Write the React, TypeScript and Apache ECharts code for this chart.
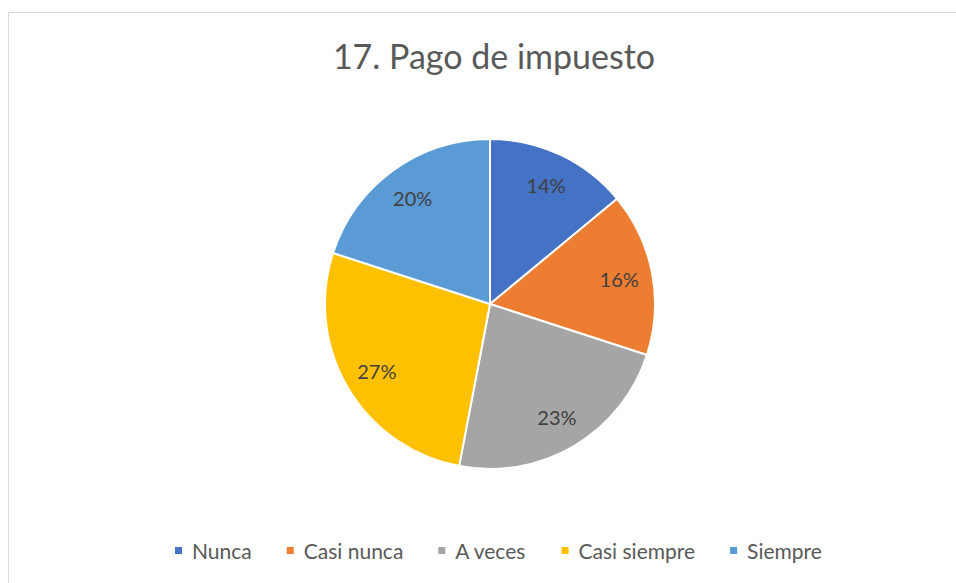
import React, { useEffect, useRef } from "react";
import * as echarts from "echarts";

const categories = ["Nunca", "Casi nunca", "A veces", "Casi siempre", "Siempre"];
const values = [14, 16, 23, 27, 20];
const colors = ["#4472C4", "#ED7D31", "#A5A5A5", "#FFC000", "#5B9BD5"];
const titleText = "17. Pago de impuesto";

export default function App() {
  const ref = useRef<HTMLDivElement>(null);
  useEffect(() => {
    if (!ref.current) return;
    const chart = echarts.init(ref.current, null, { renderer: "svg" });
    const data = categories.map((c, i) => ({ name: c, value: values[i] }));
    const labelData = categories.map((c, i) => ({
      name: c,
      value: values[i],
      itemStyle: { color: "rgba(0,0,0,0)" },
    }));
    chart.setOption({
      animation: false,
      color: colors,
      textStyle: { fontFamily: "Lato" },
      title: {
        text: titleText,
        left: 489,
        textAlign: "center",
        top: 33,
        textStyle: { fontFamily: "Lato", fontSize: 34, fontWeight: "normal", color: "#595959" },
      },
      legend: {
        top: 535,
        left: 168,
        icon: "rect",
        itemWidth: 9,
        itemHeight: 9,
        itemGap: 33,
        textStyle: { fontFamily: "Lato", fontSize: 21, color: "#595959", padding: [0, 0, 0, 4] },
        data: categories,
      },
      graphic: [
        {
          type: "rect",
          shape: { x: 8.5, y: 12.5, width: 1000, height: 1000 },
          style: { fill: "none", stroke: "#D9D9D9", lineWidth: 1 },
          silent: true,
        },
      ],
      series: [
        {
          type: "pie",
          center: [490, 304],
          radius: [0, 165],
          startAngle: 90,
          clockwise: true,
          data,
          label: { show: false },
          labelLine: { show: false },
          itemStyle: { borderColor: "#FFFFFF", borderWidth: 2 },
          emphasis: { disabled: true },
        },
        {
          type: "pie",
          center: [490, 304],
          radius: [92, 165],
          startAngle: 90,
          clockwise: true,
          data: labelData,
          silent: true,
          itemStyle: { borderWidth: 0 },
          label: {
            show: true,
            position: "inside",
            formatter: (p: any) => p.value + "%",
            fontFamily: "Lato",
            fontSize: 20,
            color: "#404040",
          },
          labelLine: { show: false },
          emphasis: { disabled: true },
        },
      ],
    });
    return () => chart.dispose();
  }, []);
  return <div ref={ref} style={{ position: "absolute", left: 0, top: 0, width: 956, height: 583 }} />;
}
